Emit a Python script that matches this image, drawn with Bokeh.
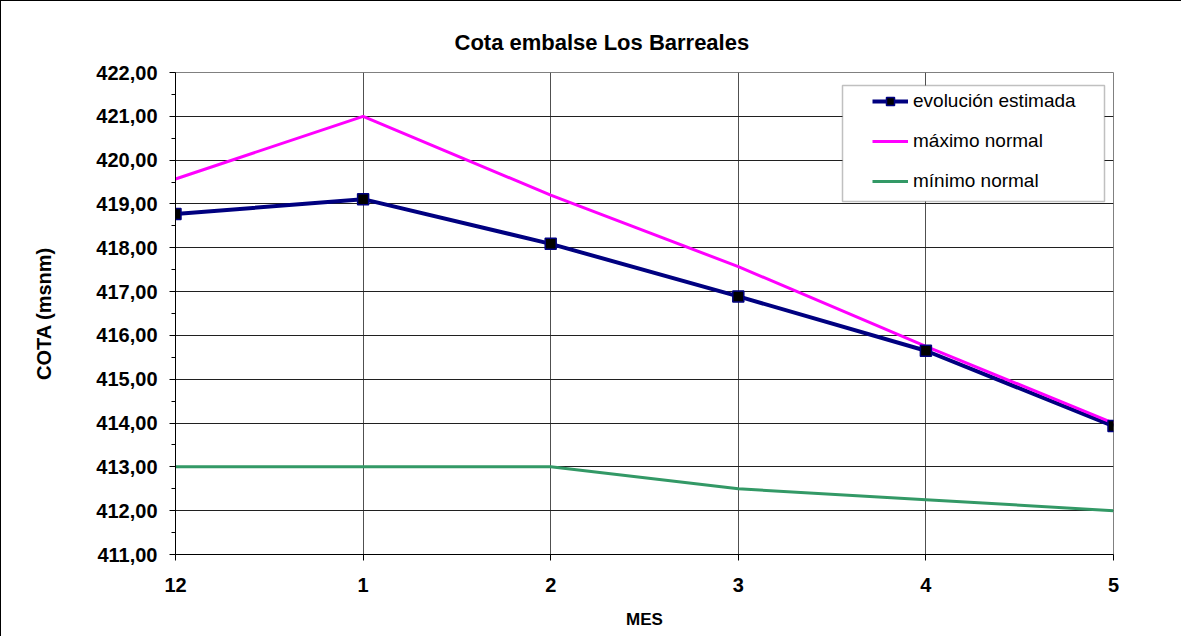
from bokeh.plotting import figure
from bokeh.models import (FixedTicker, Range1d, Legend, LegendItem, BoxAnnotation, ColumnDataSource)
from bokeh.embed import file_html
from bokeh.resources import INLINE

months = ["12", "1", "2", "3", "4", "5"]
evolucion = [418.77, 419.11, 418.09, 416.89, 415.65, 413.93]
maximo = [419.57, 421.00, 419.20, 417.57, 415.75, 414.00]
minimo = [413.00, 413.00, 413.00, 412.50, 412.25, 412.00]
y_ticks = list(range(411, 423))

FONT = "Liberation Sans"
xs = list(range(len(months)))

p = figure(width=1181, height=636, output_backend="svg", toolbar_location=None,
           x_range=Range1d(0, len(months) - 1), y_range=Range1d(411, 422),
           min_border_left=174, min_border_right=69, min_border_top=71, min_border_bottom=83,
           background_fill_color="white", border_fill_color="white")
p.styles = {"border-left": "1px solid black", "border-top": "1px solid black"}

p.title.text = "Cota embalse Los Barreales"
p.title.text_font = FONT
p.title.text_font_size = "22px"
p.title.text_font_style = "bold"
p.title.text_color = "black"
p.title.align = "left"
p.title.offset = 279
p.title.standoff = 35

p.outline_line_color = "#808080"
p.outline_line_width = 1

# axes
p.xaxis.ticker = FixedTicker(ticks=xs)
p.xaxis.major_label_overrides = {i: m for i, m in enumerate(months)}
p.yaxis.ticker = FixedTicker(ticks=y_ticks, minor_ticks=[t + 0.5 for t in y_ticks[:-1]])
p.yaxis.major_label_overrides = {t: f"{t:.2f}".replace(".", ",") for t in y_ticks}

for ax in (p.xaxis[0], p.yaxis[0]):
    ax.axis_line_color = "black"
    ax.major_tick_line_color = "black"
    ax.minor_tick_line_color = "black"
    ax.major_tick_in = 0
    ax.major_tick_out = 6
    ax.major_label_text_font = FONT
    ax.major_label_text_font_style = "bold"
    ax.major_label_text_color = "black"
    ax.axis_label_text_font = FONT
    ax.axis_label_text_font_style = "bold"
    ax.axis_label_text_color = "black"

p.xaxis.minor_tick_line_color = None
p.yaxis.minor_tick_in = 0
p.yaxis.minor_tick_out = 4
p.xaxis.major_label_text_font_size = "20px"
p.yaxis.major_label_text_font_size = "20px"
p.xaxis.major_label_standoff = 17
p.yaxis.major_label_standoff = 12
p.xaxis.axis_label = "MES"
p.xaxis.axis_label_text_font_size = "17px"
p.xaxis.axis_label_standoff = 15
p.yaxis.axis_label = "COTA (msnm)"
p.yaxis.axis_label_text_font_size = "20px"
p.yaxis.axis_label_standoff = 38

p.xgrid.grid_line_color = "#505050"
p.xgrid.grid_line_width = 1
p.ygrid.grid_line_color = "#202020"
p.ygrid.grid_line_width = 1
p.ygrid.ticker = FixedTicker(ticks=y_ticks)
p.xgrid.ticker = FixedTicker(ticks=xs)

src = ColumnDataSource(dict(x=xs, evo=evolucion, mx=maximo, mn=minimo))

l_evo = p.line("x", "evo", source=src, line_color="#000080", line_width=4)
l_max = p.line("x", "mx", source=src, line_color="#FF00FF", line_width=3)
l_min = p.line("x", "mn", source=src, line_color="#339966", line_width=3)
s_evo = p.scatter("x", "evo", source=src, marker="square", size=11,
                  fill_color="black", line_color="#000080", line_width=1.5)

legend = Legend(items=[
    LegendItem(label="evolución estimada", renderers=[l_evo, s_evo]),
    LegendItem(label="máximo normal", renderers=[l_max]),
    LegendItem(label="mínimo normal", renderers=[l_min]),
], location=(697, 362))
legend.padding = 0
legend.margin = 0
legend.spacing = 18
legend.glyph_width = 36
legend.glyph_height = 20
legend.label_height = 20
legend.label_standoff = 5
legend.label_text_font = FONT
legend.label_text_font_size = "19px"
legend.label_text_color = "black"
legend.border_line_alpha = 0
legend.background_fill_alpha = 0
p.add_layout(legend, "center")

# legend frame
p.add_layout(BoxAnnotation(left=840, right=1102, top=83, bottom=199,
                           left_units="canvas", right_units="canvas",
                           top_units="canvas", bottom_units="canvas",
                           fill_color="white", fill_alpha=1,
                           line_color="#303030", line_width=1.5, level="underlay"))

open("out.html", "w").write(file_html(p, INLINE))
